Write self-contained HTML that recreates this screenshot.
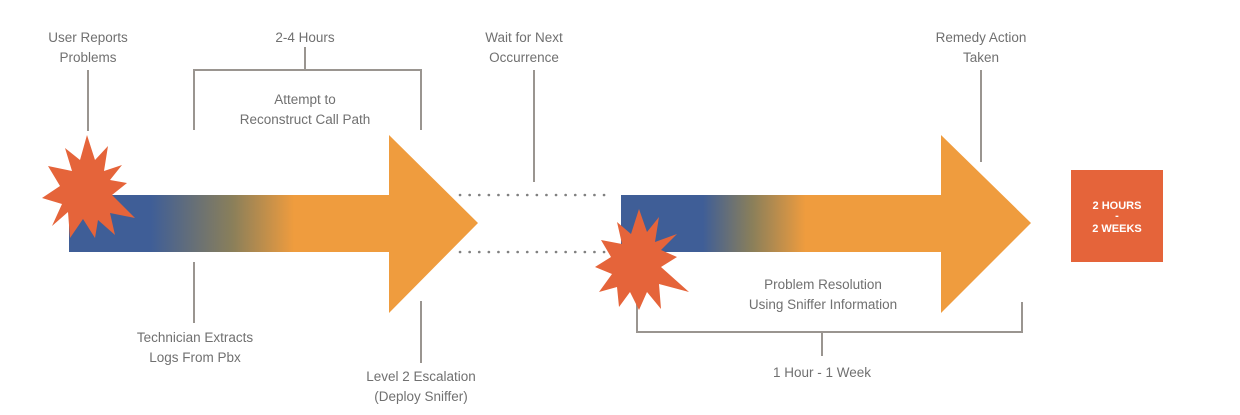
<!DOCTYPE html>
<html><head><meta charset="utf-8"><style>
html,body{margin:0;padding:0;background:#fff;}
svg{display:block;}
text{font-family:"Liberation Sans",sans-serif;font-size:13.5px;fill:#707070;text-anchor:middle;}
</style></head><body>
<svg width="1240" height="415" viewBox="0 0 1240 415" xmlns="http://www.w3.org/2000/svg">
<defs>
<linearGradient id="g1" gradientUnits="userSpaceOnUse" x1="69" y1="0" x2="478" y2="0">
<stop offset="0" stop-color="#3f5e97"/><stop offset="0.2" stop-color="#3f5e97"/>
<stop offset="0.4" stop-color="#8a7f5a"/><stop offset="0.55" stop-color="#ef9c3e"/><stop offset="1" stop-color="#ef9c3e"/>
</linearGradient>
<linearGradient id="g2" gradientUnits="userSpaceOnUse" x1="621" y1="0" x2="1031" y2="0">
<stop offset="0" stop-color="#3f5e97"/><stop offset="0.2" stop-color="#3f5e97"/>
<stop offset="0.32" stop-color="#8a7f5a"/><stop offset="0.45" stop-color="#ef9c3e"/><stop offset="1" stop-color="#ef9c3e"/>
</linearGradient>
</defs>
<g stroke="#9a9590" stroke-width="2" fill="none">
<line x1="88" y1="70" x2="88" y2="131"/>
<polyline points="194,130 194,70 421,70 421,130"/>
<line x1="305" y1="47" x2="305" y2="70"/>
<line x1="534" y1="70" x2="534" y2="182"/>
<line x1="981" y1="70" x2="981" y2="162"/>
<line x1="194" y1="262" x2="194" y2="323"/>
<line x1="421" y1="301" x2="421" y2="363"/>
<polyline points="637,302 637,332 1022,332 1022,302"/>
<line x1="822" y1="332" x2="822" y2="356"/>
</g>
<g stroke="#808080" stroke-width="2.6" stroke-dasharray="0.1 9.5" stroke-linecap="round">
<line x1="460" y1="195" x2="610" y2="195"/>
<line x1="460" y1="252" x2="610" y2="252"/>
</g>
<polygon points="69,195 389,195 389,135 478,223 389,313 389,252 69,252" fill="url(#g1)"/>
<polygon points="621,195 941,195 941,135 1031,223 941,313 941,252 621,252" fill="url(#g2)"/>
<polygon fill="#e5643a" points="87,137 95,162 108,148 104,173 122,167 110,182 127,185 112,197 135,220 110,215 115,237 98,222 95,240 83,221 70,240 68,214 52,228 62,206 42,200 60,188 48,168 72,173 65,150 80,162" transform="translate(0,-2)"/>
<polygon fill="#e5643a" transform="translate(-1,2)" points="640,207 648,230 660,215 656,240 678,232 662,248 678,255 662,265 690,290 660,282 662,307 648,290 640,308 631,290 620,305 618,285 600,290 613,272 596,265 612,255 602,238 623,242 618,220 632,232"/>
<rect x="1071" y="170" width="92" height="92" fill="#e5643a"/>
<text x="1117" y="209" style="fill:#fff;font-weight:bold;font-size:11px">2 HOURS</text>
<text x="1117" y="219" style="fill:#fff;font-weight:bold;font-size:11px">-</text>
<text x="1117" y="232" style="fill:#fff;font-weight:bold;font-size:11px">2 WEEKS</text>
<text x="88" y="42">User Reports</text><text x="88" y="62">Problems</text>
<text x="305" y="42">2-4 Hours</text>
<text x="305" y="104">Attempt to</text><text x="305" y="124">Reconstruct Call Path</text>
<text x="524" y="42">Wait for Next</text><text x="524" y="62">Occurrence</text>
<text x="981" y="42">Remedy Action</text><text x="981" y="62">Taken</text>
<text x="195" y="342">Technician Extracts</text><text x="195" y="362">Logs From Pbx</text>
<text x="421" y="381">Level 2 Escalation</text><text x="421" y="401">(Deploy Sniffer)</text>
<text x="823" y="289">Problem Resolution</text><text x="823" y="309">Using Sniffer Information</text>
<text x="822" y="377">1 Hour - 1 Week</text>
</svg>
</body></html>
